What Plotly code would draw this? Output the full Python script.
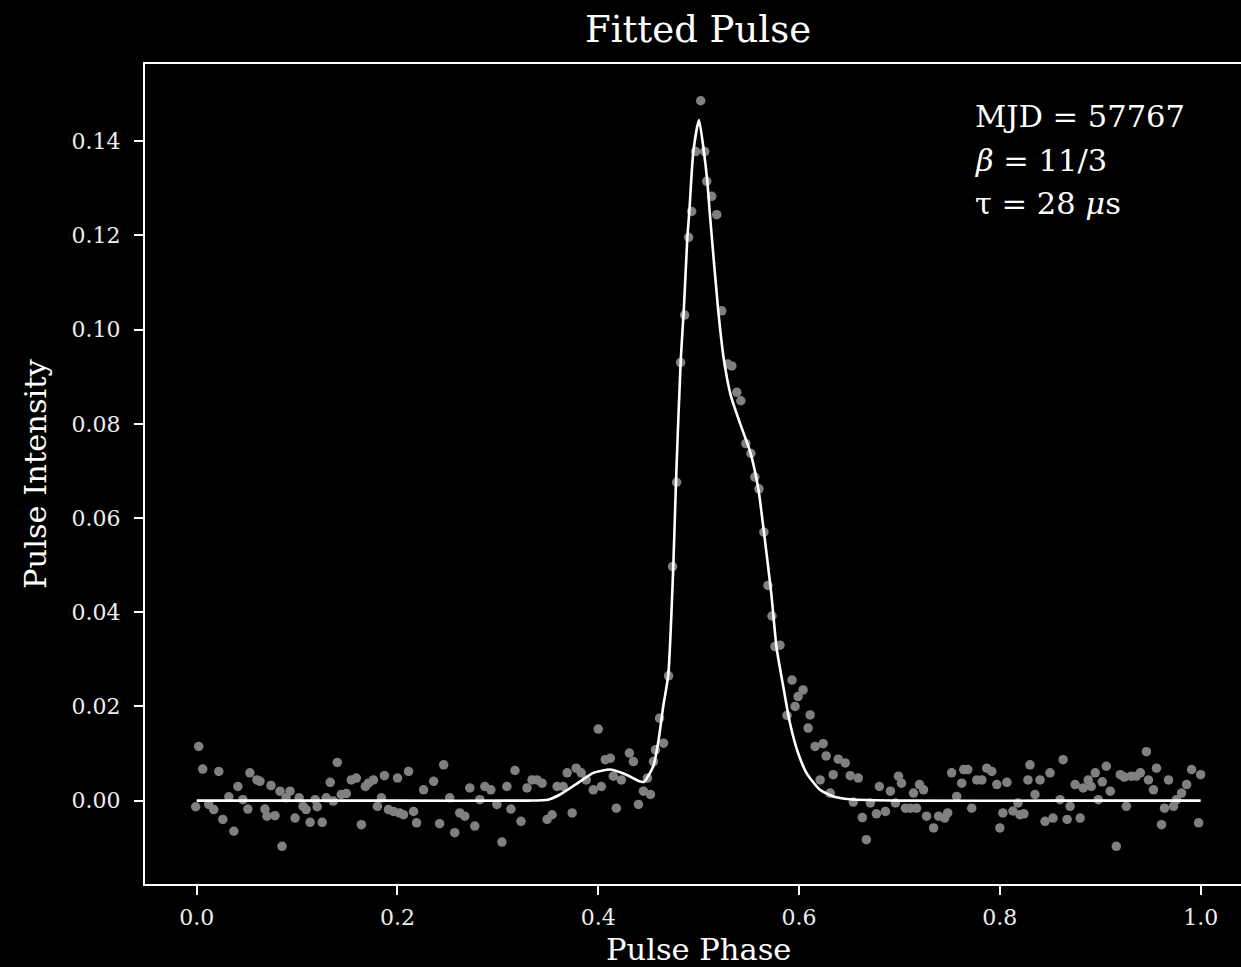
import plotly.graph_objects as go

# ---- data ----
# observed pulse profile: phase and intensity (10 values per line, aligned)
phase = [
    -0.001, 0.002, 0.006, 0.012, 0.017, 0.022, 0.026, 0.032, 0.037, 0.041,
    0.046, 0.051, 0.053, 0.060, 0.063, 0.068, 0.070, 0.074, 0.078, 0.083,
    0.085, 0.089, 0.093, 0.098, 0.102, 0.106, 0.109, 0.113, 0.118, 0.120,
    0.125, 0.129, 0.133, 0.136, 0.140, 0.144, 0.149, 0.154, 0.159, 0.164,
    0.168, 0.171, 0.176, 0.180, 0.184, 0.187, 0.191, 0.196, 0.200, 0.202,
    0.206, 0.211, 0.216, 0.219, 0.226, 0.236, 0.242, 0.246, 0.252, 0.257,
    0.262, 0.267, 0.272, 0.277, 0.282, 0.287, 0.293, 0.299, 0.304, 0.309,
    0.313, 0.317, 0.323, 0.329, 0.334, 0.339, 0.344, 0.349, 0.354, 0.359,
    0.365, 0.369, 0.374, 0.378, 0.383, 0.388, 0.395, 0.400, 0.403, 0.407,
    0.412, 0.415, 0.418, 0.423, 0.431, 0.435, 0.440, 0.445, 0.449, 0.452,
    0.455, 0.457, 0.461, 0.465, 0.470, 0.474, 0.478, 0.482, 0.486, 0.490,
    0.493, 0.497, 0.502, 0.506, 0.508, 0.513, 0.518, 0.523, 0.529, 0.533,
    0.538, 0.542, 0.547, 0.552, 0.556, 0.560, 0.565, 0.569, 0.573, 0.576,
    0.581, 0.588, 0.593, 0.596, 0.599, 0.604, 0.609, 0.611, 0.616, 0.621,
    0.624, 0.627, 0.631, 0.634, 0.639, 0.646, 0.651, 0.654, 0.659, 0.663,
    0.667, 0.671, 0.677, 0.680, 0.686, 0.691, 0.696, 0.699, 0.702, 0.706,
    0.711, 0.714, 0.717, 0.720, 0.724, 0.727, 0.734, 0.739, 0.745, 0.748,
    0.752, 0.757, 0.762, 0.764, 0.768, 0.772, 0.777, 0.782, 0.787, 0.792,
    0.797, 0.800, 0.803, 0.807, 0.813, 0.818, 0.820, 0.824, 0.828, 0.830,
    0.835, 0.840, 0.845, 0.850, 0.853, 0.860, 0.863, 0.867, 0.870, 0.875,
    0.880, 0.883, 0.888, 0.891, 0.895, 0.898, 0.902, 0.906, 0.910, 0.916,
    0.920, 0.924, 0.926, 0.931, 0.936, 0.940, 0.946, 0.948, 0.953, 0.956,
    0.961, 0.964, 0.968, 0.973, 0.976, 0.981, 0.986, 0.991, 0.998, 1.000,
]
intensity = [
    -0.0013, 0.0115, 0.0067, -0.0008, -0.0019, 0.0062, -0.0040, 0.0008, -0.0065, 0.0030,
    0.0002, -0.0018, 0.0059, 0.0044, 0.0041, -0.0018, -0.0033, 0.0032, -0.0032, 0.0020,
    -0.0097, 0.0006, 0.0020, -0.0037, 0.0006, -0.0012, -0.0019, -0.0046, 0.0002, -0.0013,
    -0.0046, 0.0006, 0.0039, -0.0001, 0.0081, 0.0013, 0.0015, 0.0044, 0.0048, -0.0051,
    0.0030, 0.0037, 0.0044, -0.0012, 0.0006, 0.0053, -0.0019, -0.0023, 0.0048, -0.0026,
    -0.0030, 0.0062, -0.0023, -0.0047, 0.0023, 0.0041, -0.0049, 0.0076, 0.0006, -0.0068,
    -0.0026, -0.0033, 0.0027, -0.0054, 0.0002, 0.0030, 0.0023, -0.0008, -0.0088, 0.0030,
    -0.0018, 0.0064, -0.0044, 0.0027, 0.0044, 0.0044, 0.0037, -0.0040, -0.0030, 0.0030,
    0.0030, 0.0059, -0.0026, 0.0069, 0.0059, 0.0044, 0.0023, 0.0152, 0.0030, 0.0087,
    0.0090, 0.0052, -0.0016, 0.0044, 0.0101, 0.0083, -0.0008, 0.0020, 0.0048, 0.0013,
    0.0083, 0.0108, 0.0175, 0.0122, 0.0265, 0.0497, 0.0676, 0.0930, 0.1031, 0.1196,
    0.1251, 0.1378, 0.1486, 0.1378, 0.1315, 0.1283, 0.1244, 0.1040, 0.0927, 0.0923,
    0.0867, 0.0849, 0.0758, 0.0737, 0.0687, 0.0662, 0.0570, 0.0457, 0.0392, 0.0327,
    0.0330, 0.0181, 0.0256, 0.0200, 0.0221, 0.0235, 0.0154, 0.0182, 0.0115, 0.0044,
    0.0121, 0.0095, 0.0016, 0.0055, 0.0088, 0.0080, 0.0053, -0.0003, 0.0048, -0.0036,
    -0.0083, -0.0005, -0.0028, 0.0030, -0.0023, 0.0020, -0.0005, 0.0052, 0.0037, -0.0016,
    -0.0016, 0.0016, -0.0016, 0.0034, 0.0023, -0.0033, -0.0058, -0.0033, -0.0037, -0.0026,
    0.0059, 0.0009, 0.0037, 0.0066, 0.0066, -0.0016, 0.0044, 0.0044, 0.0069, 0.0062,
    0.0034, -0.0058, -0.0026, 0.0039, -0.0022, -0.0005, -0.0030, -0.0028, 0.0044, 0.0076,
    0.0013, 0.0044, -0.0044, 0.0059, -0.0037, 0.0002, 0.0087, -0.0040, -0.0012, 0.0034,
    -0.0037, 0.0027, 0.0044, 0.0030, 0.0059, 0.0002, 0.0040, 0.0073, 0.0020, -0.0097,
    0.0055, 0.0050, -0.0012, 0.0052, 0.0052, 0.0059, 0.0104, 0.0044, 0.0023, 0.0069,
    -0.0051, -0.0016, 0.0044, -0.0012, 0.0002, 0.0016, 0.0034, 0.0066, -0.0047, 0.0055,
]

# fitted model curve: phase and intensity
fit_phase = [0.0, 0.20, 0.33, 0.350, 0.362, 0.382, 0.395, 0.412, 0.428, 0.441, 0.4455,
             0.4548, 0.4598, 0.4647, 0.4697, 0.4747, 0.4774, 0.4821, 0.4854, 0.4887, 0.4907,
             0.4947, 0.5003, 0.5052, 0.5086, 0.5112, 0.5195, 0.5252, 0.5320, 0.5422, 0.5514,
             0.5594, 0.5650, 0.5723, 0.5777, 0.5843, 0.5909, 0.5992, 0.6076, 0.6208, 0.6341,
             0.6507, 0.70, 0.85, 1.0]
fit_intensity = [0.0, 0.0, 0.0, 0.0002, 0.0013, 0.0041, 0.0059, 0.0066, 0.0055, 0.0041, 0.0040,
                 0.0073, 0.0125, 0.0200, 0.0267, 0.0496, 0.0676, 0.0934, 0.1050, 0.1195, 0.1251,
                 0.1378, 0.1445, 0.1378, 0.1315, 0.1244, 0.1040, 0.0935, 0.0860, 0.0795, 0.0740,
                 0.0662, 0.0570, 0.0440, 0.0323, 0.0242, 0.0165, 0.0100, 0.0058, 0.0023, 0.0009,
                 0.0003, 0.0, 0.0, 0.0]

x_ticks = [0.0, 0.2, 0.4, 0.6, 0.8, 1.0]
y_ticks = [0.00, 0.02, 0.04, 0.06, 0.08, 0.10, 0.12, 0.14]

title_text = "Fitted Pulse"
x_label = "Pulse Phase"
y_label = "Pulse Intensity"
info_lines = ["MJD = 57767", "<i>β</i> = 11/3", "τ = 28 <i>μ</i>s"]

FONT = "DejaVu Serif"
FG = "#ffffff"
TICK_FG = "#eeeeee"

fig = go.Figure()
fig.add_trace(go.Scatter(
    x=phase, y=intensity, mode="markers",
    marker=dict(color="#808080", size=9.5, line=dict(width=0)),
    showlegend=False, hoverinfo="skip",
))
fig.add_trace(go.Scatter(
    x=fit_phase, y=fit_intensity, mode="lines",
    line=dict(color="#ffffff", width=2.6, shape="spline", smoothing=0.6),
    showlegend=False, hoverinfo="skip",
))

W, H = 1241, 967
L, T, B, R = 145, 64, 83, 0

fig.update_layout(
    width=W, height=H,
    margin=dict(l=L, r=R, t=T, b=B, pad=0),
    paper_bgcolor="#000000", plot_bgcolor="#000000",
    font=dict(family=FONT, color=FG, size=22),
    showlegend=False,
)
fig.update_xaxes(
    range=[-0.0515, 1.0402], tickvals=x_ticks, ticktext=[f"{v:.1f}" for v in x_ticks],
    showgrid=False, zeroline=False, showline=True, linecolor=FG, linewidth=2, mirror=True,
    ticks="outside", ticklen=9, tickwidth=2, tickcolor=FG, ticklabelstandoff=4,
    tickfont=dict(family=FONT, size=22, color=TICK_FG),
)
fig.update_yaxes(
    range=[-0.0177, 0.1564], tickvals=y_ticks, ticktext=[f"{v:.2f}" for v in y_ticks],
    showgrid=False, zeroline=False, showline=True, linecolor=FG, linewidth=2, mirror=False,
    ticks="outside", ticklen=9, tickwidth=2, tickcolor=FG, ticklabelstandoff=9,
    tickfont=dict(family=FONT, size=22, color=TICK_FG),
)

pw = W - L - R
ph = H - T - B
def px_x(p):
    return (p - L) / pw
def px_y(p):
    return (H - B - p) / ph

fig.add_annotation(text=title_text, xref="paper", yref="paper", x=px_x(698), y=px_y(30),
                   showarrow=False, xanchor="center", yanchor="middle",
                   font=dict(family=FONT, size=37, color=FG))
fig.add_annotation(text=x_label, xref="paper", yref="paper", x=px_x(698), y=px_y(969),
                   showarrow=False, xanchor="center", yanchor="bottom",
                   font=dict(family=FONT, size=30.5, color=FG))
fig.add_annotation(text=y_label, xref="paper", yref="paper", x=px_x(35), y=px_y(474),
                   showarrow=False, xanchor="center", yanchor="middle", textangle=-90,
                   font=dict(family=FONT, size=30.5, color=FG))
for i, line in enumerate(info_lines):
    fig.add_annotation(text=line, xref="paper", yref="paper",
                       x=px_x(973), y=px_y(116.5 + 43.5 * i), showarrow=False,
                       xanchor="left", yanchor="middle", align="left",
                       font=dict(family=FONT, size=30.5, color=FG))

fig.write_html("out.html", config={"displayModeBar": False},
               post_script="document.body.style.margin='0';document.body.style.background='#000';")
